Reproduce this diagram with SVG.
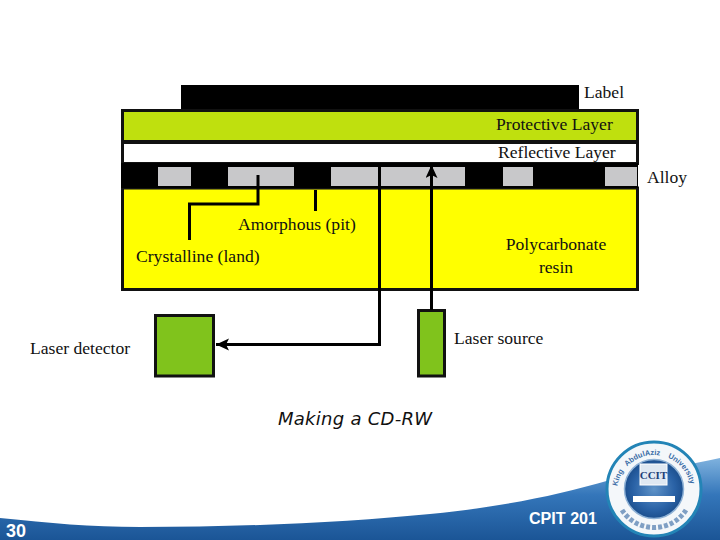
<svg xmlns="http://www.w3.org/2000/svg" width="720" height="540" viewBox="0 0 720 540">
<style>
.t{font-family:"Liberation Serif",serif;font-size:17.6px;fill:#111}
.c{fill:none;stroke:#000;stroke-width:3}
.b{stroke:#111;stroke-width:3;fill:#80c31c}
.g{fill:#c8c8ca}
.f{font-family:"Liberation Sans",sans-serif;font-weight:700;fill:#fff}
.r{font-family:"Liberation Sans",sans-serif;font-size:7.5px;font-weight:700;fill:#3a6ca6}
</style>
<defs>
<marker id="a" markerUnits="userSpaceOnUse" markerWidth="14" markerHeight="14" refX="13" refY="6" orient="auto"><path d="M0 0L13 6L0 12L3 6Z" fill="#000"/></marker>
<linearGradient id="w" x1="0" y1="0" x2="0" y2="1"><stop offset="0" stop-color="#7fb2de"/><stop offset=".45" stop-color="#3476ba"/><stop offset="1" stop-color="#1b5596"/></linearGradient>
<radialGradient id="l"><stop offset="0" stop-color="#5f93c8"/><stop offset=".7" stop-color="#2a62a6"/><stop offset="1" stop-color="#1c4f8e"/></radialGradient>
<path id="arc" d="M617 492A37 37 0 0 1 691 492"/>
</defs>
<g id="footer">
<path d="M0 518C50 523 90 527 140 527C250 527 350 522 430 514C500 507 555 496 610 480C650 470 690 465 720 458V540H0Z" fill="url(#w)"/>
<text class="f" x="6" y="537" font-size="18" textLength="20" lengthAdjust="spacingAndGlyphs">30</text>
<text class="f" x="529" y="524" font-size="16" textLength="68" lengthAdjust="spacingAndGlyphs">CPIT 201</text>
</g>
<g id="logo">
<circle cx="654" cy="489" r="47" fill="#f4f7fa" stroke="#2384b6" stroke-width="3"/>
<circle cx="654" cy="489" r="29.500" fill="url(#l)" stroke="#8fb2d6" stroke-width="1.500"/>
<path d="M622 510A38 38 0 0 0 686 510" fill="none" stroke="#7f9fc4" stroke-width="5" stroke-dasharray="4 2"/>
<text class="r"><textPath href="#arc" startOffset="5%">King</textPath></text>
<text class="r"><textPath href="#arc" startOffset="24%">AbdulAziz</textPath></text>
<text class="r"><textPath href="#arc" startOffset="62%">University</textPath></text>
<rect x="640" y="464" width="27" height="21" fill="#dfe8f2" stroke="#fff"/>
<text x="653.500" y="479" text-anchor="middle" font-family="Liberation Serif,serif" font-size="11" font-weight="700" fill="#1b3f78">CCIT</text>
<rect x="633" y="496" width="42" height="6" fill="#fff"/>
</g>
<g id="label-layer"><rect x="181" y="85" width="398" height="25" fill="#000"/><text class="t" x="584" y="98">Label</text></g>
<g id="protective-layer"><rect x="122.500" y="110.500" width="515" height="31" fill="#bfe00e" stroke="#111" stroke-width="3"/><text class="t" x="496" y="130">Protective Layer</text></g>
<g id="reflective-layer"><rect x="122.500" y="142.500" width="515" height="21" fill="#fff" stroke="#111" stroke-width="3"/><text class="t" x="498" y="158">Reflective Layer</text></g>
<g id="resin"><rect x="122.500" y="188" width="515" height="101.500" fill="#ff0" stroke="#111" stroke-width="3"/><text class="t" x="556" y="250" text-anchor="middle">Polycarbonate</text><text class="t" x="556" y="273" text-anchor="middle">resin</text></g>
<g id="alloy"><rect x="121" y="163" width="517" height="25" fill="#000"/>
<rect class="g" x="158" y="167" width="33" height="19"/><rect class="g" x="228" y="167" width="66" height="19"/><rect class="g" x="331" y="167" width="48" height="19"/><rect class="g" x="381" y="167" width="84" height="19"/><rect class="g" x="503" y="167" width="30" height="19"/><rect class="g" x="605" y="167" width="32" height="19"/>
<text class="t" x="647" y="183">Alloy</text></g>
<g id="laser-detector"><rect class="b" x="155.500" y="315.500" width="58" height="60.500"/><text class="t" x="30" y="354">Laser detector</text></g>
<g id="laser-source"><rect class="b" x="418.500" y="310.500" width="26" height="65.500"/><text class="t" x="454" y="344">Laser source</text></g>
<g id="connectors">
<path class="c" d="M379.500 163V344.500H216" marker-end="url(#a)"/>
<path class="c" d="M431.500 310V165" marker-end="url(#a)"/>
<path class="c" d="M258 175V204H189.500V240"/>
<path class="c" d="M315.500 190V211"/>
</g>
<g id="annotations">
<text class="t" x="238" y="230">Amorphous (pit)</text>
<text class="t" x="136" y="262">Crystalline (land)</text>
</g>
<text id="caption" x="278" y="425" font-family="DejaVu Sans,sans-serif" font-size="18" font-style="oblique" textLength="154" fill="#111">Making a CD-RW</text>
</svg>
